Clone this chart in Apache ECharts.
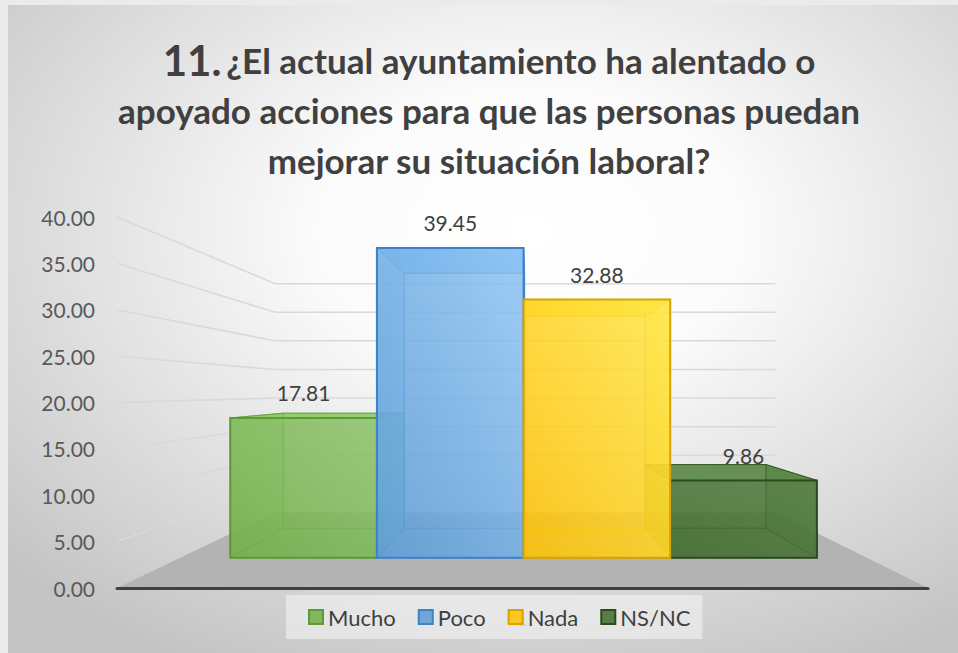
<!DOCTYPE html>
<html>
<head>
<meta charset="utf-8">
<script src="https://cdn.jsdelivr.net/npm/echarts@6/dist/echarts.min.js"></script>
<style>
    html, body { margin: 0; padding: 0; background: #ebebeb; }
    #main { width: 958px; height: 653px; }
</style>
</head>
<body>
<div id="main"></div>
<script>
var categories = ['Mucho', 'Poco', 'Nada', 'NS/NC'];
var values = [17.81, 39.45, 32.88, 9.86];
var yTicks = [0, 5, 10, 15, 20, 25, 30, 35, 40];
var xLabels = ['1'];

var fills = ['#70ad47', '#5b9bd5', '#ffc000', '#3e6a2b'];
var lights = ['#8cc46a', '#8fc5f5', '#ffe84a', '#4f7a3a'];
var edges = ['#5b9a35', '#3c82c8', '#d6a300', '#2c4a1c'];
var drawOrder = [0, 3, 1, 2]; // far bars first

// perspective: vanishing point + depth of bar front/back and back wall
var VX = 529.5, VY = 391;
var S_FRONT = 0.847, S_BACK = 0.697, S_WALL = 0.617;
var GROUP = 0.854;
var FONT = 'Lato';

function P(x, y, s) {
    return [VX + (x - VX) * s, VY + (y - VY) * s];
}
function alpha(c, a) {
    return echarts.color.modifyAlpha(c, a);
}
function dark(c, k, a) {
    return echarts.color.modifyAlpha(echarts.color.lift(c, -k), a);
}

function wallItem(params, api) {
    var cs = params.coordSys;
    var L = cs.x, R = cs.x + cs.width;
    var y = api.coord([0, api.value(1)])[1];
    if (api.value(1) === 0) {
        return {
            type: 'polygon',
            shape: { points: [P(L, y, 1), P(R, y, 1), P(R, y, S_WALL), P(L, y, S_WALL)] },
            style: { fill: '#b3b3b3' }
        };
    }
    return {
        type: 'polyline',
        shape: { points: [P(L, y, 1), P(L, y, S_WALL), P(R, y, S_WALL)] },
        style: { fill: null, stroke: '#d9d9d9', lineWidth: 1.5 }
    };
}

function barItem(slot) {
    return function (params, api) {
        var v = api.value(1);
        var base = api.coord([0, 0]);
        var top = api.coord([0, v]);
        var band = api.size([1, 0])[0];
        var groupW = band * GROUP;
        var x0 = base[0] - groupW / 2 + slot * groupW / 4;
        var x1 = x0 + groupW / 4;
        var y0 = base[1], y1 = top[1];
        var F = S_FRONT, B = S_BACK;
        var c = fills[slot], e = edges[slot];
        function face(pts, fill, stroke, lw) {
            return {
                type: 'polygon',
                shape: { points: pts },
                style: { fill: fill, stroke: stroke, lineWidth: lw }
            };
        }
        var inner = alpha(e, 0.7);
        var f0 = P(x0, y1, F), f1 = P(x1, y0, F);
        var children = [
            face([P(x0, y0, B), P(x1, y0, B), P(x1, y1, B), P(x0, y1, B)], alpha(c, 0.2), inner, 1),
            face([P(x0, y0, F), P(x1, y0, F), P(x1, y0, B), P(x0, y0, B)], dark(c, 0.1, 0.3), inner, 1),
            face([P(x0, y0, F), P(x0, y1, F), P(x0, y1, B), P(x0, y0, B)], dark(c, 0.15, 0.45), inner, 1),
            face([P(x1, y0, F), P(x1, y1, F), P(x1, y1, B), P(x1, y0, B)], dark(c, 0.15, 0.45), inner, 1),
            face([P(x0, y1, F), P(x1, y1, F), P(x1, y1, B), P(x0, y1, B)], dark(c, 0.15, 0.75), inner, 1),
            {
                type: 'rect',
                shape: { x: f0[0], y: f0[1], width: f1[0] - f0[0], height: f1[1] - f0[1] },
                style: {
                    fill: new echarts.graphic.LinearGradient(0, 1, 1, 0, [
                        { offset: 0, color: alpha(c, 0.82) },
                        { offset: 1, color: alpha(lights[slot], 0.82) }
                    ]),
                    stroke: e,
                    lineWidth: 2
                }
            },
            {
                type: 'text',
                style: {
                    x: (f0[0] + f1[0]) / 2,
                    y: f0[1] - 25,
                    text: v.toFixed(2),
                    align: 'center',
                    verticalAlign: 'middle',
                    fill: '#404040',
                    font: '21px ' + FONT
                }
            }
        ];
        return { type: 'group', children: children };
    };
}

var chartDom = document.getElementById('main');
var myChart = echarts.init(chartDom, null, { renderer: 'svg' });

var seriesData = [{
    name: 'wall',
    type: 'custom',
    z: 1,
    silent: true,
    renderItem: wallItem,
    data: yTicks.map(function (t) { return [0, t]; })
}];
drawOrder.forEach(function (i) {
    seriesData.push({
        name: categories[i],
        type: 'custom',
        z: 2,
        renderItem: barItem(i),
        itemStyle: { color: alpha(fills[i], 0.85), borderColor: edges[i], borderWidth: 2 },
        data: [[0, values[i]]]
    });
});

var option = {
    backgroundColor: '#ebebeb',
    animation: false,
    graphic: [{
        type: 'rect',
        z: -100,
        silent: true,
        shape: { x: 8, y: 5, width: 950, height: 648 },
        style: {
            fill: new echarts.graphic.RadialGradient(0.55, 0.35, 0.75, [
                { offset: 0, color: '#ffffff' },
                { offset: 0.3, color: '#fbfbfb' },
                { offset: 1, color: '#c4c4c4' }
            ])
        }
    }],
    title: {
        left: 484,
        top: 30,
        textAlign: 'center',
        text: '{a|11.} {b|¿El actual ayuntamiento ha alentado o}\n{b|apoyado acciones para que las personas puedan}\n{b|mejorar su situación laboral?}',
        textStyle: {
            rich: {
                a: { fontFamily: FONT, fontSize: 42, fontWeight: 'bold', color: '#404040', lineHeight: 50 },
                b: { fontFamily: FONT, fontSize: 35, fontWeight: 'bold', color: '#404040', lineHeight: 50 }
            }
        }
    },
    legend: {
        left: 286,
        top: 595,
        z: 10,
        padding: [11, 12, 11, 22],
        backgroundColor: 'rgba(243,243,243,0.6)',
        itemWidth: 14,
        itemHeight: 14,
        itemGap: 22,
        icon: 'rect',
        textStyle: { fontFamily: FONT, fontSize: 22, color: '#404040' },
        data: categories.map(function (name, i) {
            return {
                name: name,
                itemStyle: { color: alpha(fills[i], 0.85), borderColor: edges[i], borderWidth: 2 }
            };
        })
    },
    grid: {
        left: 117,
        right: 30,
        top: 217,
        bottom: 65
    },
    xAxis: {
        type: 'category',
        data: xLabels,
        z: 3,
        axisLine: { lineStyle: { color: '#404040', width: 3 } },
        axisTick: { show: false },
        axisLabel: { margin: 20, color: '#a6a6a6', fontFamily: FONT, fontSize: 20 },
        splitLine: { show: false }
    },
    yAxis: {
        type: 'value',
        min: 0,
        max: 40,
        interval: 5,
        axisLine: { show: false },
        axisTick: { show: false },
        splitLine: { show: false },
        axisLabel: {
            margin: 22,
            color: '#595959',
            fontFamily: FONT,
            fontSize: 21,
            formatter: function (v) { return v.toFixed(2); }
        }
    },
    series: seriesData
};

option && myChart.setOption(option);
</script>
</body>
</html>
